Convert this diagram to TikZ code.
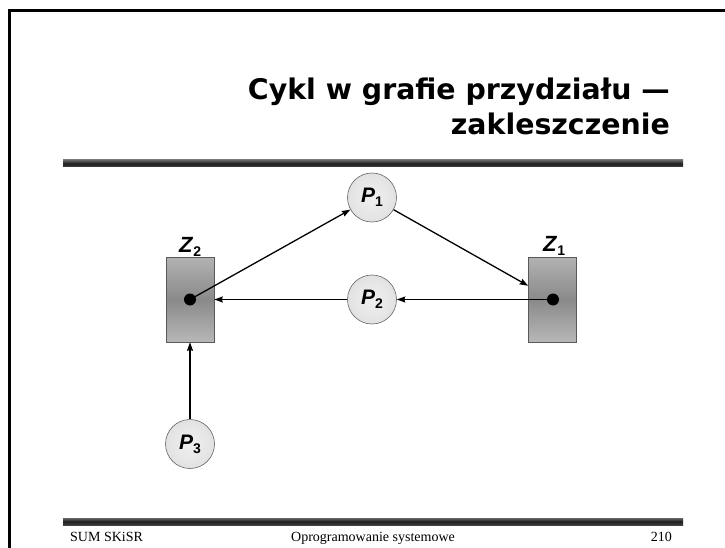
\documentclass[tikz,border=0pt]{standalone}
\usepackage{fontspec}
\setmainfont{Liberation Serif}
\newfontfamily\titlefont{DejaVu Sans}
\newfontfamily\lblfont{Liberation Sans}
\usetikzlibrary{arrows.meta}
\definecolor{procin}{gray}{0.94}
\definecolor{procout}{gray}{0.80}
\pgfdeclareradialshading{procball}{\pgfpoint{0bp}{0bp}}{color(0bp)=(procin); color(20bp)=(procin!70!procout); color(50bp)=(procout)}
\newcommand\lblsub[2]{\textit{#1}\raisebox{-4pt}{\fontsize{14}{14}\selectfont #2}}
\begin{document}
\begin{tikzpicture}[x=1pt,y=-1pt,
  titletext/.style={font=\titlefont\bfseries\fontsize{28.4}{28.4}\selectfont, inner sep=0pt},
  foot/.style={font=\fontsize{14}{14}\selectfont, inner sep=0pt},
  proc/.style={circle, minimum size=49pt, inner sep=0pt, draw=black!60, line width=0.6pt,
    shade, shading=procball, font=\lblfont\bfseries\fontsize{21}{21}\selectfont},
  zlbl/.style={inner sep=0pt, font=\lblfont\bfseries\fontsize{22}{22}\selectfont},
  resbox/.style={rectangle, minimum width=48pt, minimum height=85pt, inner sep=0pt,
    draw=black!65, line width=0.6pt, top color=black!30, bottom color=black!28, middle color=black!46},
  dotnode/.style={circle, fill=black, minimum size=12pt, inner sep=0pt},
  arr/.style={-{Stealth[length=8.5pt,width=6pt,inset=1pt]}, line width=1.3pt}]
\useasboundingbox (0,0) rectangle (725,548);
\fill[white] (0,0) rectangle (725,548);
% frame
\draw[line width=3pt] (9.5,570) -- (9.5,10.5) -- (745,10.5);
% bars
\shade[top color=black!60, bottom color=black!75, middle color=black!88] (63,160) rectangle (683,167);
\shade[top color=black!60, bottom color=black!75, middle color=black!88] (63,518) rectangle (683,525);
% title
\node[titletext, anchor=base east] (t1) at (670,100) {Cykl w grafie przydziału —};
\node[titletext, anchor=base east] (t2) at (670,135) {zakleszczenie};
% footer
\node[foot, anchor=base west] (f1) at (70,541) {SUM SKiSR};
\node[foot, anchor=base] (f2) at (373,541) {Oprogramowanie systemowe};
\node[foot, anchor=base east] (f3) at (672,541) {210};
% resource labels
\node[zlbl, anchor=base west] (z2l) at (179,252) {\lblsub{Z}{2}};
\node[zlbl, anchor=base west] (z1l) at (543,251) {\lblsub{Z}{1}};
% resources
\node[resbox] (Z2) at (190,299.5) {};
\node[resbox] (Z1) at (552.5,299.5) {};
\node[dotnode] (d2) at (190,299.5) {};
\node[dotnode] (d1) at (553,299.5) {};
% processes
\node[proc] (P1) at (372,197.5) {\lblsub{P}{1}};
\node[proc] (P2) at (372,299.5) {\lblsub{P}{2}};
\node[proc] (P3) at (190,444) {\lblsub{P}{3}};
% edges
\draw[arr] (d2.center) -- (P1);
\draw[arr] (P1) -- (Z1);
\draw[arr] (d1.center) -- (P2);
\draw[arr] (P2) -- (Z2);
\draw[arr] (P3) -- (Z2);
\end{tikzpicture}
\end{document}
